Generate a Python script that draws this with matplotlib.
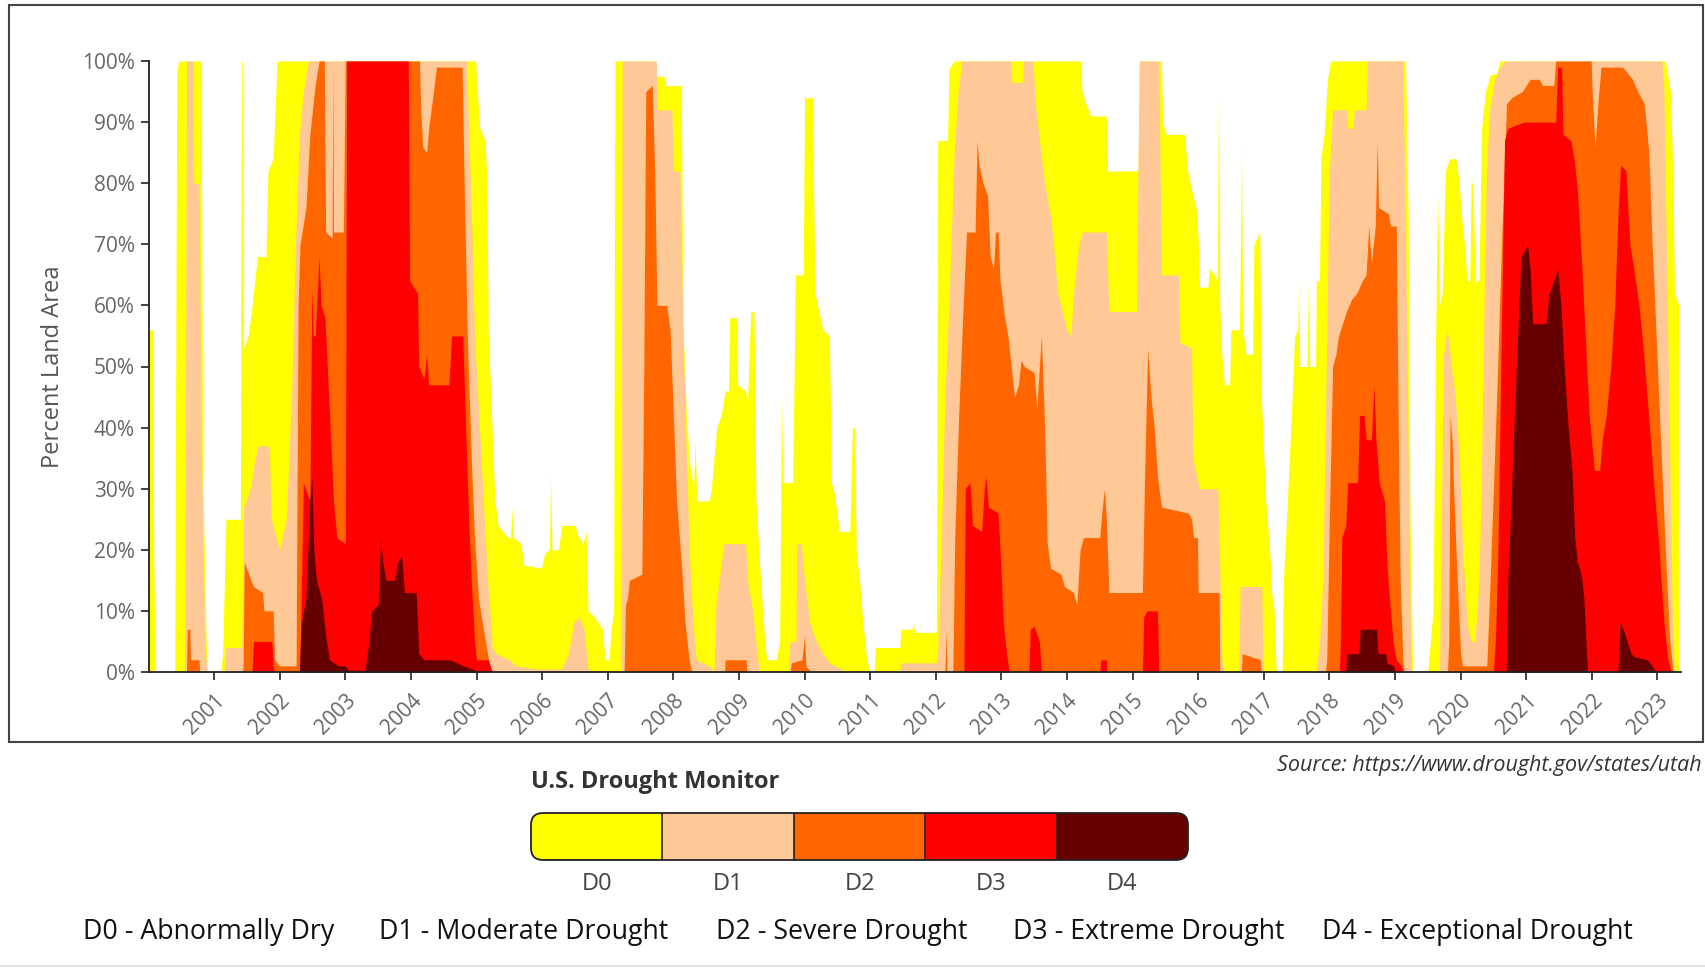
import matplotlib
matplotlib.use('Agg')
import matplotlib.pyplot as plt
from matplotlib.patches import Rectangle, FancyBboxPatch
from matplotlib.lines import Line2D

# --- Data: percent of Utah land area in each category or worse (year, %) ---
d0 = [(2000.00, 56), (2000.06, 56), (2000.08, 20), (2000.10, 0), (2000.40, 0), (2000.43, 98),
      (2000.46, 100), (2000.80, 100), (2000.83, 30), (2000.88, 5), (2000.90, 0), (2001.10, 0),
      (2001.13, 3), (2001.18, 25), (2001.40, 25), (2001.42, 100), (2001.43, 100), (2001.45, 53),
      (2001.52, 55), (2001.58, 60), (2001.66, 68), (2001.79, 68), (2001.82, 82), (2001.90, 84),
      (2001.96, 100), (2004.99, 100), (2005.00, 97), (2005.05, 89), (2005.13, 87), (2005.16, 80),
      (2005.18, 55), (2005.23, 42), (2005.28, 28), (2005.33, 24), (2005.48, 22), (2005.52, 22),
      (2005.54, 27), (2005.56, 22), (2005.68, 21), (2005.72, 17.5), (2005.99, 17), (2006.04, 19.5),
      (2006.11, 20), (2006.13, 32), (2006.15, 20), (2006.25, 20), (2006.30, 24), (2006.50, 24),
      (2006.56, 22), (2006.62, 21), (2006.67, 23), (2006.70, 10), (2006.80, 9), (2006.92, 7),
      (2006.96, 2), (2007.02, 2), (2007.05, 7), (2007.09, 10), (2007.11, 100), (2007.72, 100),
      (2007.74, 97.5), (2007.86, 97.5), (2007.88, 96), (2008.12, 96), (2008.15, 56), (2008.20, 42),
      (2008.25, 34), (2008.31, 30), (2008.33, 38), (2008.36, 28), (2008.55, 28), (2008.58, 30),
      (2008.66, 40), (2008.73, 42), (2008.79, 46), (2008.84, 46), (2008.86, 58), (2008.96, 58),
      (2008.98, 47), (2009.10, 46), (2009.13, 44), (2009.18, 59), (2009.23, 59), (2009.26, 28),
      (2009.33, 15), (2009.37, 9), (2009.40, 4), (2009.43, 2), (2009.57, 2), (2009.62, 5),
      (2009.65, 45), (2009.67, 31), (2009.82, 31), (2009.86, 65), (2009.98, 65), (2010.00, 94),
      (2010.12, 94), (2010.16, 62), (2010.22, 59), (2010.28, 56), (2010.38, 55), (2010.41, 31),
      (2010.46, 29), (2010.53, 23), (2010.69, 23), (2010.73, 40), (2010.76, 40), (2010.79, 19),
      (2010.84, 15), (2010.89, 8), (2010.94, 3), (2010.99, 0), (2011.06, 0), (2011.08, 4),
      (2011.45, 4), (2011.47, 7), (2011.64, 7), (2011.66, 8), (2011.68, 6.5), (2012.01, 6.5),
      (2012.03, 87), (2012.18, 87), (2012.20, 98.7), (2012.28, 100), (2014.21, 100), (2014.23, 95),
      (2014.29, 93), (2014.36, 91), (2014.60, 91), (2014.62, 82), (2015.08, 82), (2015.12, 100),
      (2015.44, 100), (2015.46, 90), (2015.51, 88), (2015.79, 88), (2015.84, 82), (2015.92, 78),
      (2015.97, 76), (2016.00, 71), (2016.02, 63), (2016.15, 63), (2016.17, 66), (2016.25, 65),
      (2016.29, 64), (2016.31, 95), (2016.33, 60), (2016.36, 52), (2016.40, 47), (2016.48, 47),
      (2016.50, 56), (2016.63, 56), (2016.66, 86), (2016.68, 56), (2016.73, 52), (2016.83, 52),
      (2016.85, 70), (2016.94, 72), (2016.96, 46), (2017.03, 28), (2017.09, 20), (2017.12, 13),
      (2017.16, 10), (2017.19, 0), (2017.28, 0), (2017.30, 15), (2017.36, 28), (2017.42, 42),
      (2017.47, 55), (2017.52, 56), (2017.53, 64), (2017.55, 50), (2017.66, 50), (2017.68, 64),
      (2017.70, 50), (2017.79, 50), (2017.80, 64), (2017.85, 64), (2017.87, 84), (2017.92, 88),
      (2017.97, 97), (2018.02, 100), (2019.16, 100), (2019.20, 75), (2019.23, 25), (2019.27, 0),
      (2019.50, 0), (2019.54, 5), (2019.58, 10), (2019.62, 55), (2019.65, 78), (2019.68, 60),
      (2019.72, 62), (2019.77, 82), (2019.83, 84), (2019.93, 84), (2019.97, 81), (2020.02, 74),
      (2020.06, 70), (2020.10, 64), (2020.14, 64), (2020.16, 80), (2020.19, 80), (2020.22, 64),
      (2020.28, 64), (2020.32, 89), (2020.38, 95), (2020.45, 97.7), (2020.55, 98), (2020.60, 100),
      (2023.12, 100), (2023.20, 95), (2023.24, 80), (2023.26, 62), (2023.33, 60)]

d1 = [(2000.55, 0), (2000.58, 100), (2000.68, 100), (2000.69, 80), (2000.77, 80), (2000.80, 40),
      (2000.86, 5), (2000.89, 0), (2001.15, 0), (2001.18, 4), (2001.42, 4), (2001.45, 27),
      (2001.55, 30), (2001.66, 37), (2001.84, 37), (2001.87, 25), (2002.00, 20), (2002.10, 25),
      (2002.18, 45), (2002.24, 70), (2002.30, 88), (2002.36, 95), (2002.44, 100), (2004.85, 100),
      (2004.92, 75), (2004.97, 55), (2005.07, 35), (2005.17, 15), (2005.24, 4), (2005.30, 3),
      (2005.50, 2), (2005.60, 1), (2005.90, 0.5), (2006.30, 0.5), (2006.40, 3), (2006.48, 8),
      (2006.56, 9), (2006.64, 7), (2006.70, 0.5), (2006.85, 0), (2007.20, 0), (2007.22, 100),
      (2007.74, 100), (2007.76, 92), (2007.98, 92), (2008.00, 82), (2008.10, 82), (2008.15, 55),
      (2008.20, 35), (2008.25, 18), (2008.30, 8), (2008.35, 2), (2008.55, 1), (2008.62, 0),
      (2008.65, 11), (2008.77, 21), (2009.10, 21), (2009.14, 14), (2009.21, 10), (2009.26, 5),
      (2009.31, 0), (2009.75, 0), (2009.78, 5), (2009.87, 5), (2009.88, 21), (2009.95, 21),
      (2010.00, 15), (2010.08, 8), (2010.18, 5), (2010.28, 3), (2010.38, 1.5), (2010.55, 0.5),
      (2010.60, 0), (2011.45, 0), (2011.47, 1.5), (2012.01, 1.5), (2012.03, 3), (2012.08, 20),
      (2012.14, 45), (2012.20, 60), (2012.28, 85), (2012.34, 95), (2012.40, 100), (2013.14, 100),
      (2013.16, 96.5), (2013.32, 96.5), (2013.34, 100), (2013.48, 100), (2013.52, 93), (2013.58, 87),
      (2013.66, 80), (2013.76, 74), (2013.86, 62), (2014.00, 56), (2014.06, 55), (2014.10, 62),
      (2014.18, 70), (2014.24, 72), (2014.60, 72), (2014.64, 59), (2015.06, 59), (2015.10, 100),
      (2015.40, 100), (2015.44, 65), (2015.70, 65), (2015.72, 54), (2015.90, 53), (2015.92, 35),
      (2016.02, 30), (2016.30, 30), (2016.33, 17), (2016.36, 2), (2016.40, 0), (2016.62, 0),
      (2016.64, 14), (2016.97, 14), (2016.99, 0), (2017.80, 0), (2017.85, 5), (2017.90, 15),
      (2017.95, 48), (2018.00, 82), (2018.05, 92), (2018.26, 92), (2018.28, 89), (2018.36, 89),
      (2018.38, 92), (2018.56, 92), (2018.58, 100), (2019.12, 100), (2019.16, 75), (2019.20, 35),
      (2019.24, 3), (2019.26, 0), (2019.68, 0), (2019.70, 20), (2019.74, 52), (2019.80, 56),
      (2019.86, 50), (2019.92, 45), (2019.98, 35), (2020.04, 18), (2020.10, 8), (2020.16, 5),
      (2020.22, 5), (2020.28, 15), (2020.31, 28), (2020.35, 55), (2020.39, 80), (2020.44, 92),
      (2020.52, 97), (2020.60, 99), (2020.68, 100), (2023.07, 100), (2023.10, 95), (2023.14, 68),
      (2023.19, 35), (2023.23, 8), (2023.26, 0), (2023.33, 0)]

d2 = [(2000.58, 0), (2000.59, 7), (2000.63, 7), (2000.64, 2), (2000.77, 2), (2000.78, 0),
      (2001.44, 0), (2001.46, 18), (2001.56, 15), (2001.60, 14), (2001.74, 13), (2001.76, 10),
      (2001.90, 10), (2001.92, 2), (2002.00, 1), (2002.25, 1), (2002.28, 60), (2002.31, 70),
      (2002.40, 76), (2002.46, 88), (2002.54, 96), (2002.60, 100), (2002.68, 100), (2002.70, 72),
      (2002.80, 71), (2002.81, 100), (2002.82, 72), (2002.97, 72), (2003.00, 100), (2004.13, 100),
      (2004.15, 92), (2004.18, 86), (2004.24, 85), (2004.27, 89), (2004.32, 93), (2004.39, 99),
      (2004.78, 99), (2004.82, 75), (2004.86, 55), (2004.92, 35), (2004.97, 22), (2005.03, 12),
      (2005.12, 6), (2005.20, 1), (2005.24, 0), (2007.25, 0), (2007.27, 11), (2007.30, 12),
      (2007.33, 15), (2007.52, 16), (2007.55, 50), (2007.58, 95), (2007.68, 96), (2007.72, 80),
      (2007.75, 60), (2007.90, 60), (2007.95, 56), (2008.00, 42), (2008.05, 28), (2008.12, 18),
      (2008.18, 8), (2008.24, 2), (2008.28, 0), (2008.78, 0), (2008.79, 2), (2009.11, 2),
      (2009.12, 0), (2009.78, 0), (2009.80, 1.5), (2009.96, 2), (2010.00, 6), (2010.02, 1),
      (2010.10, 0), (2012.14, 0), (2012.16, 7), (2012.17, 0), (2012.26, 0), (2012.29, 22),
      (2012.35, 42), (2012.41, 58), (2012.47, 72), (2012.60, 72), (2012.63, 87), (2012.66, 83),
      (2012.72, 80), (2012.79, 78), (2012.83, 68), (2012.88, 66), (2012.91, 72), (2012.95, 72),
      (2012.98, 64), (2013.05, 58), (2013.10, 55), (2013.15, 50), (2013.20, 45), (2013.26, 47),
      (2013.30, 51), (2013.35, 50), (2013.50, 49), (2013.54, 43), (2013.58, 50), (2013.61, 55),
      (2013.66, 40), (2013.70, 21), (2013.75, 17), (2013.91, 16), (2013.96, 14), (2014.10, 13),
      (2014.15, 11), (2014.20, 20), (2014.25, 22), (2014.50, 22), (2014.54, 27), (2014.57, 30),
      (2014.60, 25), (2014.64, 13), (2015.15, 13), (2015.18, 30), (2015.23, 53), (2015.28, 45),
      (2015.33, 40), (2015.38, 32), (2015.44, 27), (2015.85, 26), (2015.90, 25), (2015.93, 22),
      (2015.99, 22), (2016.00, 13), (2016.32, 13), (2016.33, 0), (2016.66, 0), (2016.67, 3),
      (2016.95, 2), (2016.96, 0), (2017.94, 0), (2017.96, 2), (2018.00, 25), (2018.05, 50),
      (2018.10, 52), (2018.14, 55), (2018.20, 57), (2018.26, 59), (2018.34, 61), (2018.42, 62),
      (2018.50, 64), (2018.56, 65), (2018.60, 73), (2018.64, 67), (2018.70, 73), (2018.73, 87),
      (2018.75, 76), (2018.90, 75), (2018.93, 73), (2019.02, 73), (2019.05, 40), (2019.08, 15),
      (2019.12, 2), (2019.14, 0), (2019.80, 0), (2019.82, 5), (2019.84, 42), (2019.87, 38),
      (2019.89, 31), (2019.93, 20), (2019.97, 10), (2020.00, 3), (2020.03, 1), (2020.40, 1),
      (2020.45, 15), (2020.50, 30), (2020.56, 48), (2020.60, 62), (2020.64, 75), (2020.70, 93),
      (2020.78, 94), (2020.94, 95), (2021.06, 97), (2021.20, 97), (2021.25, 96), (2021.42, 96),
      (2021.45, 100), (2021.99, 100), (2022.01, 94), (2022.05, 86), (2022.10, 94), (2022.14, 99),
      (2022.47, 99), (2022.62, 97), (2022.70, 95), (2022.80, 93), (2022.87, 85), (2022.92, 70),
      (2022.97, 58), (2023.02, 45), (2023.08, 30), (2023.13, 18), (2023.19, 5), (2023.24, 0),
      (2023.33, 0)]

d3 = [(2001.58, 0), (2001.60, 5), (2001.88, 5), (2001.90, 1), (2001.92, 0), (2002.30, 0),
      (2002.32, 8), (2002.36, 31), (2002.46, 28), (2002.49, 63), (2002.51, 55), (2002.54, 55),
      (2002.60, 68), (2002.63, 60), (2002.69, 58), (2002.76, 42), (2002.82, 28), (2002.87, 22),
      (2003.00, 21), (2003.02, 100), (2003.96, 100), (2003.98, 64), (2004.10, 62), (2004.12, 50),
      (2004.20, 48), (2004.24, 52), (2004.27, 47), (2004.58, 47), (2004.62, 55), (2004.79, 55),
      (2004.84, 38), (2004.88, 25), (2004.92, 15), (2004.97, 5), (2005.00, 2), (2005.18, 2),
      (2005.24, 0), (2012.43, 0), (2012.45, 30), (2012.52, 31), (2012.56, 24), (2012.70, 23),
      (2012.74, 30), (2012.77, 32), (2012.80, 27), (2012.95, 26), (2012.99, 18), (2013.03, 8),
      (2013.08, 3), (2013.12, 0), (2013.42, 0), (2013.44, 7), (2013.50, 7.5), (2013.58, 5),
      (2013.61, 0), (2014.50, 0), (2014.52, 2), (2014.60, 2), (2014.61, 0), (2015.15, 0),
      (2015.17, 9), (2015.22, 10), (2015.38, 10), (2015.40, 0), (2018.15, 0), (2018.17, 5),
      (2018.19, 22), (2018.25, 24), (2018.28, 31), (2018.43, 31), (2018.46, 42), (2018.53, 42),
      (2018.56, 38), (2018.64, 38), (2018.68, 47), (2018.71, 38), (2018.76, 31), (2018.84, 28),
      (2018.88, 17), (2018.97, 5), (2019.02, 2), (2019.10, 1), (2019.12, 0), (2020.50, 0),
      (2020.53, 5), (2020.57, 20), (2020.62, 55), (2020.67, 87), (2020.72, 89), (2020.97, 90),
      (2021.45, 90), (2021.48, 99), (2021.54, 99), (2021.56, 88), (2021.68, 87), (2021.73, 84),
      (2021.78, 79), (2021.84, 68), (2021.90, 55), (2021.96, 42), (2022.04, 33), (2022.12, 33),
      (2022.16, 38), (2022.22, 42), (2022.29, 50), (2022.35, 60), (2022.40, 75), (2022.44, 83),
      (2022.52, 82), (2022.58, 70), (2022.64, 66), (2022.72, 60), (2022.80, 51), (2022.88, 40),
      (2022.95, 30), (2023.02, 21), (2023.10, 8), (2023.16, 2), (2023.21, 0), (2023.33, 0)]

d4 = [(2002.30, 0), (2002.33, 8), (2002.40, 12), (2002.46, 28), (2002.49, 32), (2002.52, 20),
      (2002.56, 15), (2002.64, 12), (2002.70, 6), (2002.76, 2), (2002.90, 1), (2003.00, 1),
      (2003.05, 0.3), (2003.30, 0.3), (2003.36, 5), (2003.40, 10), (2003.50, 11), (2003.54, 22),
      (2003.57, 18), (2003.62, 15), (2003.75, 15), (2003.80, 18), (2003.86, 19), (2003.90, 13),
      (2004.08, 13), (2004.12, 3), (2004.20, 2), (2004.60, 2), (2004.80, 1), (2004.95, 0.5),
      (2005.00, 0), (2018.25, 0), (2018.27, 3), (2018.45, 3), (2018.47, 7), (2018.72, 7),
      (2018.74, 3), (2018.86, 3), (2018.88, 1.5), (2018.98, 1), (2019.00, 0), (2020.70, 0),
      (2020.72, 15), (2020.77, 28), (2020.82, 42), (2020.87, 55), (2020.92, 68), (2020.98, 69),
      (2021.02, 70), (2021.06, 66), (2021.10, 57), (2021.30, 57), (2021.35, 62), (2021.42, 64),
      (2021.48, 66), (2021.53, 60), (2021.58, 50), (2021.64, 40), (2021.70, 33), (2021.74, 22),
      (2021.78, 18), (2021.84, 16), (2021.88, 12), (2021.92, 3), (2021.94, 0), (2022.40, 0),
      (2022.43, 8), (2022.48, 7), (2022.54, 5), (2022.60, 3), (2022.65, 2.5), (2022.85, 2),
      (2022.92, 1), (2022.98, 0)]

categories = ['D0', 'D1', 'D2', 'D3', 'D4']
descriptions = ['D0 - Abnormally Dry', 'D1 - Moderate Drought', 'D2 - Severe Drought',
                'D3 - Extreme Drought', 'D4 - Exceptional Drought']
colors = ['#FFFF00', '#FFC896', '#FF6600', '#FF0000', '#660000']
year_ticks = list(range(2001, 2024))
pct_ticks = list(range(0, 101, 10))

W, H = 1705, 969
fig = plt.figure(figsize=(W / 100, H / 100), dpi=100)

# outer frame round the chart, faint rule at the very bottom
fig.add_artist(Rectangle((9 / W, 1 - 742 / H), 1694 / W, 737 / H, transform=fig.transFigure,
                         fill=False, edgecolor='#444444', lw=1.5))
fig.add_artist(Line2D([0, 1], [1 - 966 / H, 1 - 966 / H], transform=fig.transFigure,
                      color='#e4e4e4', lw=1.5))

ax = fig.add_axes([148.5 / W, 1 - 672 / H, 1532.5 / W, 611 / H])
for series, c in zip([d0, d1, d2, d3, d4], colors):
    xs, ys = zip(*series)
    ax.fill_between(xs, 0, ys, color=c, linewidth=0)

ax.set_xlim(2000.0, 2023.36)
ax.set_ylim(0, 100)
ax.spines['top'].set_visible(False)
ax.spines['right'].set_visible(False)
for s in ['left', 'bottom']:
    ax.spines[s].set_color('#222222')
    ax.spines[s].set_linewidth(1.3)
ax.set_yticks(pct_ticks)
ax.set_yticklabels([f'{p}%' for p in pct_ticks], fontsize=15, color='#666666', family='Open Sans')
ax.set_xticks(year_ticks)
ax.set_xticklabels([str(y) for y in year_ticks], fontsize=15, color='#666666', family='Open Sans',
                   rotation=45, ha='right', rotation_mode='anchor')
ax.tick_params(axis='both', length=6, width=1.2, color='#222222')
ax.tick_params(axis='x', pad=7)
ax.tick_params(axis='y', pad=4)
ax.set_ylabel('Percent Land Area', fontsize=17, color='#555555', family='Open Sans', labelpad=12)

# source note
fig.text(1702 / W, 1 - 765 / H, 'Source: https://www.drought.gov/states/utah', ha='right',
         va='center', fontsize=15.5, style='italic', color='#333333', family='Open Sans')

# legend title and colour bar
fig.text(531 / W, 1 - 782 / H, 'U.S. Drought Monitor', ha='left', va='center', fontsize=17,
         fontweight='bold', color='#333333', family='Open Sans')
bw, bh = 657, 47
lax = fig.add_axes([531 / W, 1 - 860 / H, bw / W, bh / H])
lax.set_xlim(0, bw)
lax.set_ylim(0, bh)
lax.axis('off')
box = FancyBboxPatch((0, 0), bw, bh, boxstyle='round,pad=0,rounding_size=12',
                     facecolor='none', edgecolor='#222222', lw=1.3, zorder=3, clip_on=False)
lax.add_patch(box)
seg = bw / len(categories)
for i, (cat, c) in enumerate(zip(categories, colors)):
    r = Rectangle((i * seg, 0), seg, bh, facecolor=c, edgecolor='none', zorder=1)
    lax.add_patch(r)
    r.set_clip_path(box)
    if i > 0:
        lax.plot([i * seg, i * seg], [0, bh], color='#222222', lw=1.2, zorder=2)
    fig.text((531 + (i + 0.5) * seg) / W, 1 - 884 / H, cat, ha='center', va='center',
             fontsize=17, color='#444444', family='Open Sans')

# category descriptions along the bottom
desc_x = [83, 379, 716, 1013, 1322]
for x, d in zip(desc_x, descriptions):
    fig.text(x / W, 1 - 932 / H, d, ha='left', va='center', fontsize=19.3, color='#111111',
             family='Open Sans')

fig.savefig('out.png', dpi=100)
